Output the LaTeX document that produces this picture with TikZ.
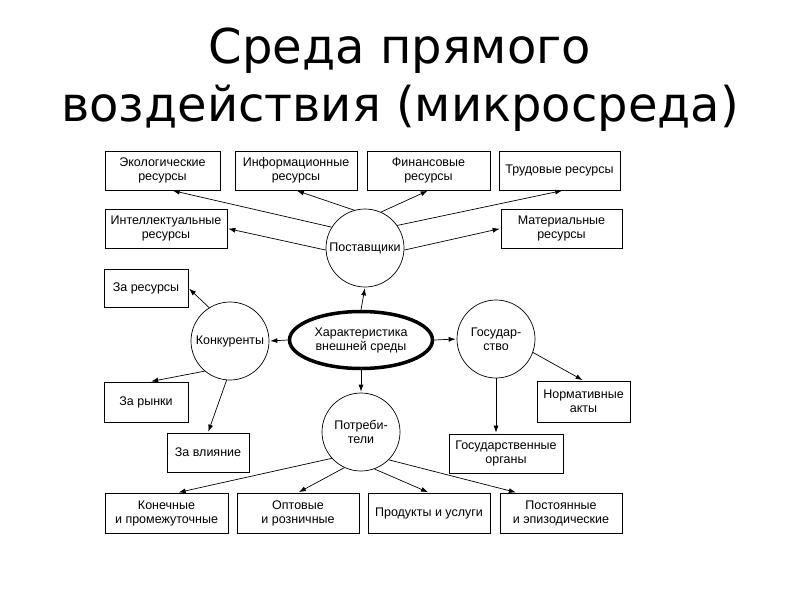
\documentclass[tikz,border=0pt]{standalone}
\usepackage{fontspec}
\setmainfont{Liberation Sans}
\newfontfamily\titlefont{DejaVu Sans}
\usetikzlibrary{arrows.meta,calc,shapes.geometric}

\begin{document}
\begin{tikzpicture}[x=1pt,y=-1pt,
    box/.style={draw,line width=0.8pt,minimum height=39pt,inner sep=1pt,align=center,font=\fontsize{12.5}{14}\selectfont},
    circ/.style={draw,circle,line width=0.7pt,minimum size=78pt,inner sep=0pt,align=center,font=\fontsize{12.5}{14}\selectfont},
    arr/.style={-{Latex[length=7pt,width=5pt]},line width=0.7pt,shorten >=1pt}]
    \useasboundingbox (0,0) rectangle (800,600);
    \node[font=\titlefont\fontsize{48}{58}\selectfont,align=center] (T) at (400,80) {Среда прямого\\воздействия (микросреда)};
    % centre and circles
    \node[draw,ellipse,line width=3.5pt,minimum width=143pt,minimum height=57pt,inner sep=0pt,align=center,font=\fontsize{12.5}{14}\selectfont] (Ell) at (361,340) {Характеристика\\внешней среды};
    \node[circ] (Pst) at (365,248) {Поставщики};
    \node[circ] (Konk) at (230,341) {Конкуренты};
    \node[circ] (Gos) at (496,339) {Государ-\\ство};
    \node[circ] (Potr) at (361,432) {Потреби-\\тели};
    % boxes
    \node[box,minimum width=115pt] (Eko) at (162.5,170.5) {Экологические\\ресурсы};
    \node[box,minimum width=122pt] (Inf) at (296,170.5) {Информационные\\ресурсы};
    \node[box,minimum width=123pt] (Fin) at (428.5,170.5) {Финансовые\\ресурсы};
    \node[box,minimum width=121pt] (Trud) at (559.5,170.5) {Трудовые ресурсы};
    \node[box,minimum width=122pt] (Int) at (166,228.5) {Интеллектуальные\\ресурсы};
    \node[box,minimum width=121pt] (Mat) at (561.5,228.5) {Материальные\\ресурсы};
    \node[box,minimum width=84pt,minimum height=38pt] (ZaRes) at (146,288) {За ресурсы};
    \node[box,minimum width=84pt,minimum height=40pt] (ZaRyn) at (146,402) {За рынки};
    \node[box,minimum width=82pt] (ZaVl) at (208,452.5) {За влияние};
    \node[box,minimum width=93pt,minimum height=41pt] (Norm) at (583.5,401.5) {Нормативные\\акты};
    \node[box,minimum width=114pt] (GosOrg) at (506,453.5) {Государственные\\органы};
    \node[box,minimum width=123pt,minimum height=40pt] (Kon) at (166.5,513) {Конечные\\и промежуточные};
    \node[box,minimum width=122pt,minimum height=40pt] (Opt) at (298,513) {Оптовые\\и розничные};
    \node[box,minimum width=122pt,minimum height=40pt] (Prod) at (429,513) {Продукты и услуги};
    \node[box,minimum width=122pt,minimum height=40pt] (Post) at (561,513) {Постоянные\\и эпизодические};
    % arrows
    \draw[arr] (Ell.north) -- (Pst.south);
    \draw[arr] (Ell.west) -- (Konk.east);
    \draw[arr] (Ell.east) -- (Gos.west);
    \draw[arr] (Ell.south) -- (Potr.north);
    \draw[arr] (Pst.148) -- ($(Eko.south west)!0.58!(Eko.south east)$);
    \draw[arr] (Pst.106) -- (Inf.south);
    \draw[arr] (Pst.183) -- (Int.east);
    \draw[arr] (Pst.66) -- (Fin.south);
    \draw[arr] (Pst.35) -- ($(Trud.south west)!0.53!(Trud.south east)$);
    \draw[arr] (Pst.-3) -- (Mat.west);
    \draw[arr] (Konk.122) -- (ZaRes.east);
    \draw[arr] (Konk.230) -- ($(ZaRyn.north west)!0.55!(ZaRyn.north east)$);
    \draw[arr] (Konk.265) -- (ZaVl.north);
    \draw[arr] (Gos.-20) -- (Norm.north);
    \draw[arr] (Gos.south) -- (Gos.south |- GosOrg.north);
    \draw[arr] (Potr.222) -- ($(Kon.north west)!0.59!(Kon.north east)$);
    \draw[arr] (Potr.245) -- (Opt.north);
    \draw[arr] (Potr.290) -- (Prod.north);
    \draw[arr] (Potr.315) -- ($(Post.north west)!0.14!(Post.north east)$);
\end{tikzpicture}
\end{document}
